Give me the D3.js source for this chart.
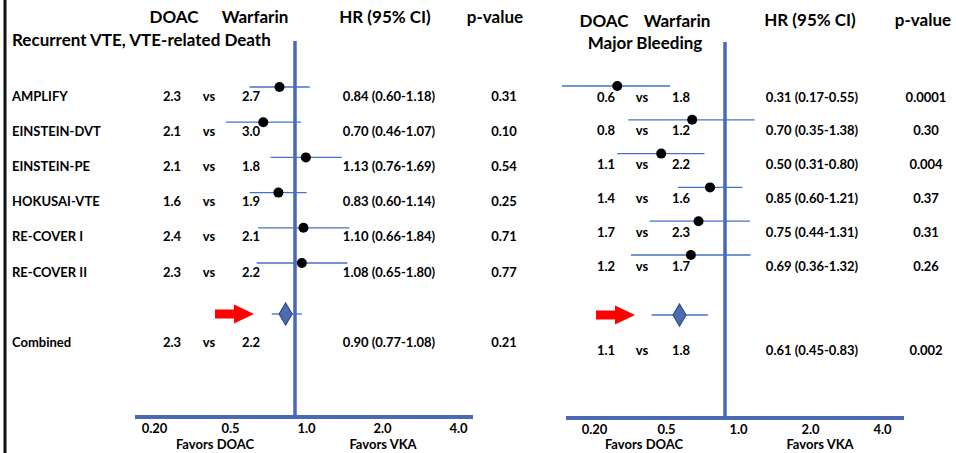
<!DOCTYPE html>
<html lang='en'>

<head>
   <meta charset='UTF-8'>
   <title>DOAC vs Warfarin - forest plots</title>
   <script src='https://d3js.org/d3.v7.min.js'></script>
   <style>
      body {
         margin: 0;
         background: #fff;
      }

      svg text {
         font-family: Lato, 'Open Sans', sans-serif;
         font-weight: 700;
         fill: #000;
      }
   </style>
</head>

<body>
   <div id='svg-container'></div>
   <script>

      // ---- data ----
      const vteStudies = ['AMPLIFY', 'EINSTEIN-DVT', 'EINSTEIN-PE', 'HOKUSAI-VTE', 'RE-COVER I', 'RE-COVER II'];
      const vteDoac = [2.3, 2.1, 2.1, 1.6, 2.4, 2.3];
      const vteWarfarin = [2.7, 3.0, 1.8, 1.9, 2.1, 2.2];
      const vteHr = [0.84, 0.70, 1.13, 0.83, 1.10, 1.08];
      const vteLow = [0.60, 0.46, 0.76, 0.60, 0.66, 0.65];
      const vteHigh = [1.18, 1.07, 1.69, 1.14, 1.84, 1.80];
      const vteP = ['0.31', '0.10', '0.54', '0.25', '0.71', '0.77'];
      const vteCombined = { doac: 2.3, warfarin: 2.2, hr: 0.90, low: 0.77, high: 1.08, p: '0.21' };

      const bleedDoac = [0.6, 0.8, 1.1, 1.4, 1.7, 1.2];
      const bleedWarfarin = [1.8, 1.2, 2.2, 1.6, 2.3, 1.7];
      const bleedHr = [0.31, 0.70, 0.50, 0.85, 0.75, 0.69];
      const bleedLow = [0.17, 0.35, 0.31, 0.60, 0.44, 0.36];
      const bleedHigh = [0.55, 1.38, 0.80, 1.21, 1.31, 1.32];
      const bleedP = ['0.0001', '0.30', '0.004', '0.37', '0.31', '0.26'];
      const bleedCombined = { doac: 1.1, warfarin: 1.8, hr: 0.61, low: 0.45, high: 0.83, p: '0.002' };

      const axisLabels = ['0.20', '0.5', '1.0', '2.0', '4.0'];

      const W = 956, H = 453;
      const lineBlue = '#4a68b4';
      const ciBlue = '#4472c4';

      const svg = d3.select('#svg-container').append('svg').attr('width', W).attr('height', H);

      // black frame line on the far left
      svg.append('line')
         .attr('x1', 5).attr('x2', 5).attr('y1', 0).attr('y2', H)
         .attr('stroke', '#111').attr('stroke-width', 3);

      const fmt = d3.format('.2f');

      const drawPanel = (p) => {
         const g = svg.append('g');

         // hazard ratio scale (log), and the evenly spaced axis labels
         const x = d3.scaleLog().domain([0.2, 4]).range([p.one - p.k * Math.log(5), p.one + p.k * Math.log(4)]);
         const xLab = d3.scalePoint().domain(axisLabels).range(p.labRange);
         const rows = d3.range(p.hr.length);
         const y = d3.scalePoint().domain(rows).range(p.rowRange);

         // headers
         const head = [['DOAC', p.cols.doacHead], ['Warfarin', p.cols.warfHead]];
         head.forEach(h => g.append('text').attr('x', h[1]).attr('y', p.headY)
            .attr('text-anchor', 'middle').attr('font-size', 17).text(h[0]));
         g.append('text').attr('x', p.cols.hrHead).attr('y', p.hrHeadY).attr('text-anchor', 'middle')
            .attr('font-size', 17).text('HR (95% CI)');
         g.append('text').attr('x', p.cols.pHead).attr('y', p.hrHeadY).attr('text-anchor', 'middle')
            .attr('font-size', 17).text('p-value');
         g.append('text').attr('x', p.titleX).attr('y', p.titleY).attr('text-anchor', p.titleAnchor)
            .attr('font-size', 17).text(p.title);

         // reference line at HR = 1 and bottom axis line
         g.append('line')
            .attr('x1', x(1)).attr('x2', x(1)).attr('y1', p.refTop).attr('y2', p.axisY)
            .attr('stroke', lineBlue).attr('stroke-width', 3.5);
         g.append('line')
            .attr('x1', p.axisX[0]).attr('x2', p.axisX[1]).attr('y1', p.axisY).attr('y2', p.axisY)
            .attr('stroke', lineBlue).attr('stroke-width', 4);

         const axis = g.append('g').attr('transform', `translate(0, ${p.axisY})`)
            .call(d3.axisBottom(xLab).tickSize(0).tickPadding(0));
         axis.select('.domain').remove();
         axis.selectAll('text').attr('dy', null).attr('y', 16).attr('font-size', 13)
            .style('font-family', 'Lato, sans-serif').style('font-weight', 700).attr('fill', '#000');

         g.append('text').attr('x', p.favors[0]).attr('y', 449).attr('text-anchor', 'middle')
            .attr('font-size', 13).text('Favors DOAC');
         g.append('text').attr('x', p.favors[1]).attr('y', 449).attr('text-anchor', 'middle')
            .attr('font-size', 13).text('Favors VKA');

         // study rows
         const rowText = (cx, yy, txt, anchor) => g.append('text').attr('x', cx).attr('y', yy)
            .attr('dy', '0.35em').attr('text-anchor', anchor || 'middle').attr('font-size', 13).text(txt);

         rows.forEach(i => {
            const yy = y(i);
            if (p.studies) rowText(12, yy, p.studies[i], 'start');
            rowText(p.cols.doac, yy, p.doac[i].toFixed(1));
            rowText(p.cols.vs, yy, 'vs');
            rowText(p.cols.warf, yy, p.warfarin[i].toFixed(1));
            rowText(p.cols.hr, yy, `${fmt(p.hr[i])} (${fmt(p.low[i])}-${fmt(p.high[i])})`);
            rowText(p.cols.p, yy, p.p[i]);
         });

         g.selectAll('line.ci').data(rows).join('line')
            .attr('class', 'ci')
            .attr('x1', i => x(p.low[i])).attr('x2', i => x(p.high[i]))
            .attr('y1', i => y(i) + p.markOffset).attr('y2', i => y(i) + p.markOffset)
            .attr('stroke', ciBlue).attr('stroke-width', 1.3);

         g.selectAll('circle.hr').data(rows).join('circle')
            .attr('class', 'hr')
            .attr('cx', i => x(p.hr[i])).attr('cy', i => y(i) + p.markOffset)
            .attr('r', 5).attr('fill', '#000');

         // combined row
         const c = p.combined;
         if (p.studies) rowText(12, p.combY, 'Combined', 'start');
         rowText(p.cols.doac, p.combY, c.doac.toFixed(1));
         rowText(p.cols.vs, p.combY, 'vs');
         rowText(p.cols.warf, p.combY, c.warfarin.toFixed(1));
         rowText(p.cols.hr, p.combY, `${fmt(c.hr)} (${fmt(c.low)}-${fmt(c.high)})`);
         rowText(p.cols.p, p.combY, c.p);

         g.append('line')
            .attr('x1', x(c.low)).attr('x2', x(c.high)).attr('y1', p.diamondY).attr('y2', p.diamondY)
            .attr('stroke', ciBlue).attr('stroke-width', 1.3);
         const cx = x(c.hr), cy = p.diamondY;
         g.append('path')
            .attr('d', `M${cx},${cy - 11}L${cx + 6.5},${cy}L${cx},${cy + 11}L${cx - 6.5},${cy}Z`)
            .attr('fill', '#4d6cb0').attr('stroke', '#2f4a85').attr('stroke-width', 1.2);

         // red arrow pointing at the pooled estimate
         const a = p.arrow;
         g.append('path')
            .attr('d', `M${a[0]},${cy - 4.5}H${a[1]}V${cy - 9.5}L${a[2]},${cy}L${a[1]},${cy + 9.5}V${cy + 4.5}H${a[0]}Z`)
            .attr('fill', '#ff0000');
      };

      drawPanel({
         title: 'Recurrent VTE, VTE-related Death', titleX: 12, titleY: 46, titleAnchor: 'start',
         studies: vteStudies, doac: vteDoac, warfarin: vteWarfarin, hr: vteHr, low: vteLow, high: vteHigh, p: vteP,
         combined: vteCombined,
         one: 295, k: 89, labRange: [154, 458], axisX: [135, 473], axisY: 417, refTop: 41,
         rowRange: [96, 272], markOffset: -9, combY: 342, diamondY: 314, arrow: [215, 234, 254],
         headY: 23, hrHeadY: 23,
         cols: { doacHead: 174, warfHead: 255, hrHead: 385, pHead: 495, doac: 172, vs: 209, warf: 251, hr: 389, p: 504 },
         favors: [215, 383]
      });

      drawPanel({
         title: 'Major Bleeding', titleX: 645, titleY: 49, titleAnchor: 'middle',
         studies: null, doac: bleedDoac, warfarin: bleedWarfarin, hr: bleedHr, low: bleedLow, high: bleedHigh, p: bleedP,
         combined: bleedCombined,
         one: 725, k: 92, labRange: [594, 882], axisX: [566, 904], axisY: 418, refTop: 42,
         rowRange: [97, 266], markOffset: -11, combY: 350, diamondY: 315, arrow: [596, 615, 635],
         headY: 27, hrHeadY: 26,
         cols: { doacHead: 604, warfHead: 677, hrHead: 810, pHead: 923, doac: 606, vs: 642, warf: 681, hr: 812, p: 926 },
         favors: [644, 820]
      });

   </script>
</body>

</html>
